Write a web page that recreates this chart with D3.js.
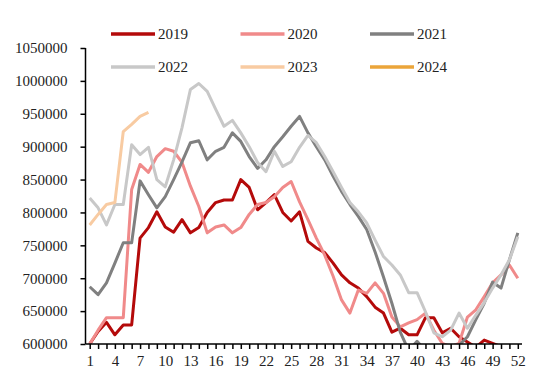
<!DOCTYPE html>
<html>
<head>
<meta charset="utf-8">
<script src="https://cdn.jsdelivr.net/npm/d3@7"></script>
<style>
  body { margin: 0; background: #fff; }
  svg { display: block; font-family: "Liberation Serif", "Times New Roman", serif; }
</style>
</head>
<body>
<div id="chart"></div>
<script>
(() => {
  "use strict"

  // Data (weekly values, week 1..52)
  const weeks = d3.range(1, 53)
  const years = ['2019', '2020', '2021', '2022', '2023', '2024']
  const yTicks = d3.range(600000, 1050001, 50000)
  const xTickLabels = d3.range(1, 53, 3)

  const s2019 = [600000, 619000, 633000, 614000, 629000, 629000, 761000, 777000, 801000, 778000,
    770000, 789000, 769000, 777000, 800000, 815000, 819000, 819000, 850000, 838000,
    804000, 815000, 827000, 800000, 787000, 801000, 756000, 746000, 739000, 723000,
    705000, 693000, 685000, 672000, 656000, 647000, 618000, 624000, 614000, 614000,
    640000, 640000, 617000, 624000, 611000, 603000, 595000, 606000, 601000, 596000,
    590000, 590000]
  const s2020 = [600000, 621000, 640000, 640000, 640000, 835000, 873000, 861000, 885000, 897000,
    893000, 876000, 840000, 809000, 769000, 778000, 781000, 769000, 777000, 797000,
    812000, 815000, 824000, 838000, 847000, 816000, 789000, 761000, 735000, 703000,
    667000, 647000, 682000, 677000, 693000, 677000, 641000, 626000, 632000, 637000,
    647000, 621000, 601000, 596000, 601000, 641000, 652000, 672000, 693000, 705000,
    720000, 700000]
  const s2021 = [687000, 675000, 693000, 723000, 754000, 754000, 848000, 827000, 807000, 824000,
    850000, 877000, 906000, 909000, 880000, 893000, 899000, 921000, 908000, 885000,
    867000, 880000, 900000, 915000, 931000, 946000, 921000, 900000, 880000, 855000,
    832000, 812000, 794000, 774000, 740000, 702000, 662000, 618000, 590000, 604000,
    590000, 590000, 590000, 590000, 598000, 611000, 637000, 662000, 694000, 685000,
    728000, 769000]
  const s2022 = [822000, 807000, 781000, 812000, 812000, 903000, 888000, 899000, 850000, 839000,
    880000, 929000, 987000, 996000, 984000, 957000, 931000, 940000, 921000, 900000,
    876000, 862000, 893000, 870000, 877000, 899000, 917000, 906000, 885000, 862000,
    838000, 815000, 801000, 784000, 758000, 733000, 720000, 705000, 678000, 678000,
    649000, 617000, 611000, 621000, 647000, 624000, 644000, 663000, 685000, 705000,
    728000, 763000]
  const s2023 = [781000, 797000, 812000, 815000, 923000, 934000, 946000, 952000]
  const s2024 = []

  const colors = ['#b40a0a', '#f08a8a', '#808080', '#c8c8c8', '#f8cba2', '#eba53a']
  const series = [s2019, s2020, s2021, s2022, s2023, s2024]
    .map((values, i) => ({ name: years[i], color: colors[i], values: values }))

  // Layout
  const width = 550, height = 386
  const plot = { left: 85.5, right: 522, top: 48, bottom: 344 }

  const svg = d3.select('#chart').append('svg')
    .attr('width', width)
    .attr('height', height)

  const x = d3.scalePoint()
    .domain(weeks)
    .range([plot.left, plot.right])
    .padding(0.5)
  const y = d3.scaleLinear()
    .domain([600000, 1050000])
    .range([plot.bottom, plot.top])

  svg.append('clipPath')
    .attr('id', 'plot-clip')
    .append('rect')
    .attr('x', plot.left)
    .attr('y', plot.top - 4)
    .attr('width', plot.right - plot.left)
    .attr('height', plot.bottom - plot.top + 4)

  // Lines
  const line = d3.line()
    .x((d, i) => x(weeks[i]))
    .y(d => y(d))

  svg.append('g')
    .attr('clip-path', 'url(#plot-clip)')
    .selectAll('path')
    .data(series.filter(s => s.values.length > 0))
    .enter()
    .append('path')
      .attr('d', s => line(s.values))
      .attr('fill', 'none')
      .attr('stroke', s => s.color)
      .attr('stroke-width', 3)
      .attr('stroke-linejoin', 'round')

  // Axes
  const y_axis = svg.append('g')
    .attr('transform', `translate(${plot.left},0)`)
    .call(d3.axisLeft(y).tickValues(yTicks).tickSize(5).tickPadding(13).tickFormat(d3.format('d')))
  const x_axis = svg.append('g')
    .attr('transform', `translate(0,${plot.bottom})`)
    .call(d3.axisBottom(x).tickSize(5).tickPadding(6)
      .tickFormat(d => xTickLabels.includes(d) ? d : ''))

  for (const axis of [y_axis, x_axis]) {
    axis.select('.domain').attr('stroke', '#000').attr('stroke-width', 1.5)
    axis.selectAll('.tick line').attr('stroke', '#000').attr('stroke-width', 1.5)
    axis.selectAll('.tick text')
      .attr('fill', '#222')
      .style('font-size', '15px')
      .style('font-family', '"Liberation Serif", "Times New Roman", serif')
  }
  // x axis line spans the full plot width
  x_axis.select('.domain').attr('d', `M${plot.left},0H${plot.right}`)
  y_axis.select('.domain').attr('d', `M0,${plot.top}V${plot.bottom}`)

  // Legend
  const legend = svg.append('g')
  const legend_items = legend.selectAll('g')
    .data(series)
    .enter()
    .append('g')
      .attr('transform', (s, i) => `translate(${111 + (i % 3) * 129.5},${34 + Math.floor(i / 3) * 33})`)
  legend_items.append('line')
    .attr('x1', 0).attr('x2', 44)
    .attr('stroke', s => s.color)
    .attr('stroke-width', 3.5)
  legend_items.append('text')
    .attr('x', 47)
    .attr('y', 5)
    .attr('fill', '#222')
    .style('font-size', '15px')
    .text(s => s.name)
})()
</script>
</body>
</html>
